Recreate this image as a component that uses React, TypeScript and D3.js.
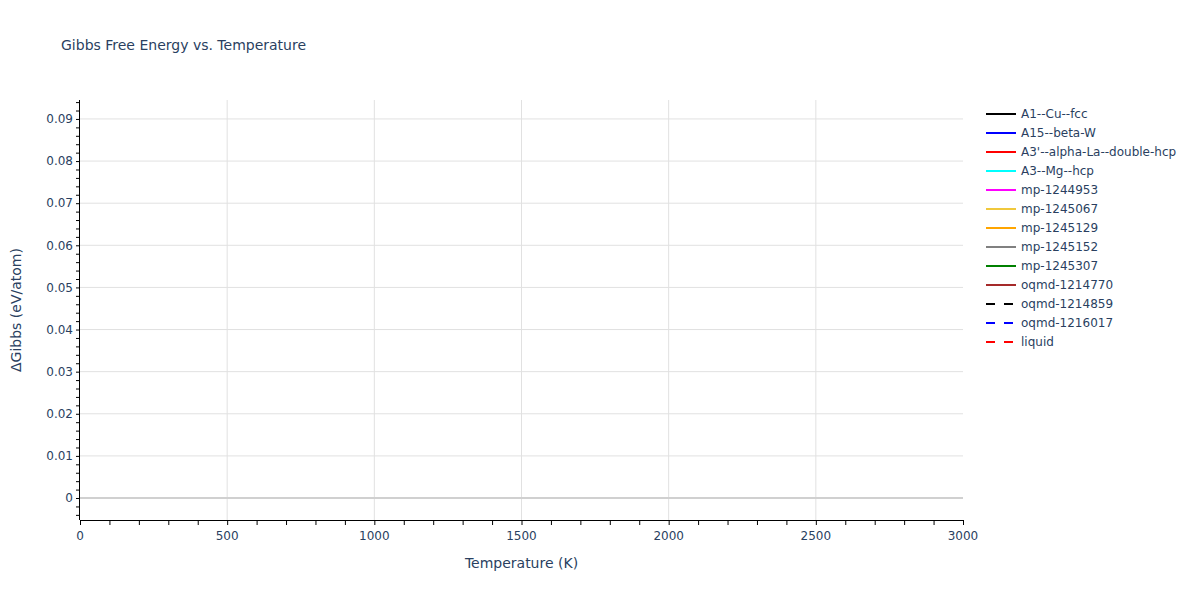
import { useRef, useEffect, FC } from 'react'
import * as d3 from 'd3'

// temperature grid (K) and the ΔG series; the traces in the picture hold no visible points
const temperatures: number[] = []
const seriesNames = [
	'A1--Cu--fcc',
	'A15--beta-W',
	"A3'--alpha-La--double-hcp",
	'A3--Mg--hcp',
	'mp-1244953',
	'mp-1245067',
	'mp-1245129',
	'mp-1245152',
	'mp-1245307',
	'oqmd-1214770',
	'oqmd-1214859',
	'oqmd-1216017',
	'liquid',
]
const seriesValues: number[][] = seriesNames.map(() => [])
const xTicks = [0, 500, 1000, 1500, 2000, 2500, 3000]
const yTicks = [0, 0.01, 0.02, 0.03, 0.04, 0.05, 0.06, 0.07, 0.08, 0.09]

const colors = [
	'#000000',
	'#0000ff',
	'#ff0000',
	'#00ffff',
	'#ff00ff',
	'#f0c83c',
	'#ffa500',
	'#808080',
	'#008000',
	'#a52a2a',
	'#000000',
	'#0000ff',
	'#ff0000',
]
const dashed = [false, false, false, false, false, false, false, false, false, false, true, true, true]

const font = '"DejaVu Sans", verdana, arial, sans-serif'
const textColor = '#2a3f5f'

const Chart: FC = () => {
	const svgRef = useRef<SVGSVGElement | null>(null)

	useEffect(() => {
		if (!svgRef.current) return
		const width = 1200
		const height = 600
		const margin = { top: 100, right: 237, bottom: 80, left: 80 }

		d3.select(svgRef.current).selectAll('*').remove()
		const svg = d3.select(svgRef.current).attr('width', width).attr('height', height)

		const x = d3.scaleLinear().domain([0, 3000]).range([margin.left, width - margin.right])
		const y = d3.scaleLinear().domain([-0.00522, 0.0945]).range([height - margin.bottom, margin.top])

		// grid
		const grid = svg.append('g')
		grid
			.selectAll('line.gx')
			.data(xTicks.slice(1, -1))
			.enter()
			.append('line')
			.attr('x1', (d) => x(d))
			.attr('x2', (d) => x(d))
			.attr('y1', margin.top)
			.attr('y2', height - margin.bottom)
			.attr('stroke', '#e1e1e1')
			.attr('stroke-width', 1)
		grid
			.selectAll('line.gy')
			.data(yTicks.filter((d) => d !== 0))
			.enter()
			.append('line')
			.attr('x1', margin.left)
			.attr('x2', width - margin.right)
			.attr('y1', (d) => y(d))
			.attr('y2', (d) => y(d))
			.attr('stroke', '#e1e1e1')
			.attr('stroke-width', 1)
		// zero line
		grid
			.append('line')
			.attr('x1', margin.left)
			.attr('x2', width - margin.right)
			.attr('y1', y(0))
			.attr('y2', y(0))
			.attr('stroke', '#d0d0d0')
			.attr('stroke-width', 2)

		// traces
		const line = d3
			.line<number>()
			.x((_, i) => x(temperatures[i]))
			.y((d) => y(d))
		svg
			.append('g')
			.selectAll('path')
			.data(seriesValues)
			.enter()
			.append('path')
			.attr('d', (d) => (d.length ? line(d) : null))
			.attr('fill', 'none')
			.attr('stroke', (_, i) => colors[i])
			.attr('stroke-width', 2)
			.attr('stroke-dasharray', (_, i) => (dashed[i] ? '9,9' : null))

		// X axis
		const xAxis = svg.append('g').attr('transform', `translate(0,${height - margin.bottom})`)
		xAxis
			.call(d3.axisBottom(x).tickValues(d3.range(0, 3001, 100)).tickSize(5).tickFormat(() => ''))
			.call((g) => g.select('.domain').attr('stroke', '#000').attr('d', `M${margin.left},0.5H${width - margin.right}`))
			.call((g) => g.selectAll('.tick line').attr('stroke', '#000'))
		xAxis
			.selectAll('text.xl')
			.data(xTicks)
			.enter()
			.append('text')
			.attr('x', (d) => x(d))
			.attr('y', 20)
			.attr('text-anchor', 'middle')
			.attr('font-family', font)
			.attr('font-size', 12)
			.attr('fill', textColor)
			.text((d) => String(d))

		// Y axis
		const yAxis = svg.append('g').attr('transform', `translate(${margin.left},0)`)
		yAxis
			.call(d3.axisLeft(y).tickValues(d3.range(-2, 48).map((i) => i * 0.002)).tickSize(4).tickFormat(() => ''))
			.call((g) => g.select('.domain').attr('stroke', '#000').attr('d', `M-0.5,${margin.top}V${height - margin.bottom}`))
			.call((g) => g.selectAll('.tick line').attr('stroke', '#000'))
		yAxis
			.selectAll('text.yl')
			.data(yTicks)
			.enter()
			.append('text')
			.attr('x', -7)
			.attr('y', (d) => y(d))
			.attr('dy', '0.35em')
			.attr('text-anchor', 'end')
			.attr('font-family', font)
			.attr('font-size', 12)
			.attr('fill', textColor)
			.text((d) => (d === 0 ? '0' : d3.format('.2f')(d)))

		// titles
		svg
			.append('text')
			.attr('x', 61)
			.attr('y', 50)
			.attr('font-family', font)
			.attr('font-size', 14)
			.attr('fill', textColor)
			.text('Gibbs Free Energy vs. Temperature')
		svg
			.append('text')
			.attr('x', (margin.left + width - margin.right) / 2)
			.attr('y', 568)
			.attr('text-anchor', 'middle')
			.attr('font-family', font)
			.attr('font-size', 14)
			.attr('fill', textColor)
			.text('Temperature (K)')
		svg
			.append('text')
			.attr('transform', `translate(21,${(margin.top + height - margin.bottom) / 2}) rotate(-90)`)
			.attr('text-anchor', 'middle')
			.attr('font-family', font)
			.attr('font-size', 14)
			.attr('fill', textColor)
			.text('ΔGibbs (eV/atom)')

		// legend
		const legend = svg
			.append('g')
			.selectAll('g')
			.data(seriesNames)
			.enter()
			.append('g')
			.attr('transform', (_, i) => `translate(986,${114 + i * 19})`)
		legend
			.append('line')
			.attr('x1', 0)
			.attr('x2', 30)
			.attr('stroke', (_, i) => colors[i])
			.attr('stroke-width', 2)
			.attr('stroke-dasharray', (_, i) => (dashed[i] ? '9,9' : null))
		legend
			.append('text')
			.attr('x', 35)
			.attr('dy', '0.35em')
			.attr('font-family', font)
			.attr('font-size', 12)
			.attr('fill', textColor)
			.text((d) => d)
	}, [])

	return <svg ref={svgRef} style={{ position: 'absolute', left: 0, top: 0, background: '#fff' }}></svg>
}

export default function App() {
	return <Chart />
}
